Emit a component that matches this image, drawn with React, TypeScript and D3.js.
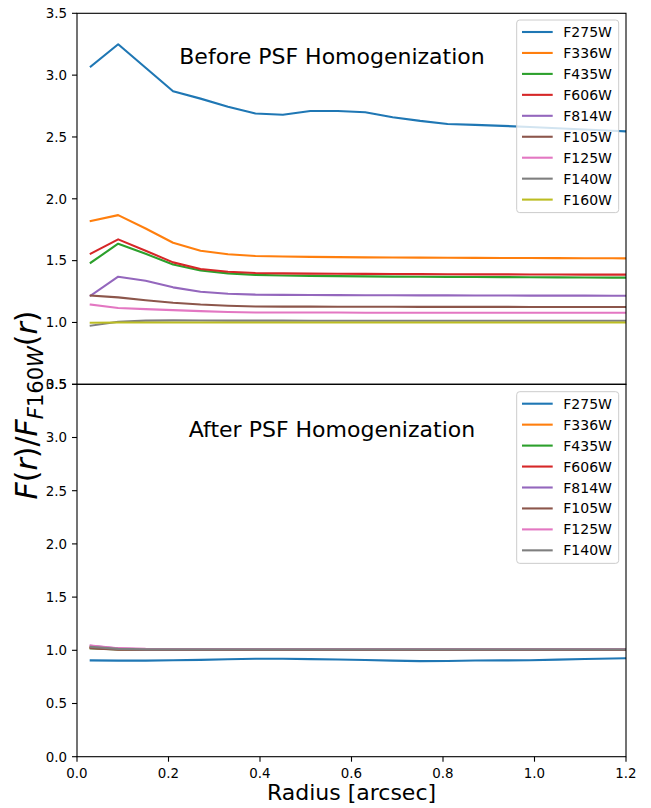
import React from "react";
import * as d3 from "d3";

// Aperture radii (arcsec)
const radius = [0.03, 0.09, 0.15, 0.21, 0.27, 0.33, 0.39, 0.45, 0.51, 0.57, 0.63, 0.69, 0.75, 0.81, 0.87, 0.93, 0.99, 1.05, 1.11, 1.17, 1.23];

const filtersBefore = ["F275W", "F336W", "F435W", "F606W", "F814W", "F105W", "F125W", "F140W", "F160W"];
const filtersAfter = ["F275W", "F336W", "F435W", "F606W", "F814W", "F105W", "F125W", "F140W"];

const colors = ["#1f77b4", "#ff7f0e", "#2ca02c", "#d62728", "#9467bd", "#8c564b", "#e377c2", "#7f7f7f", "#bcbd22"];

// Flux ratio profiles before homogenization
const before_F275W = [3.07, 3.25, 3.06, 2.87, 2.81, 2.745, 2.69, 2.68, 2.71, 2.71, 2.70, 2.66, 2.63, 2.605, 2.598, 2.59, 2.58, 2.57, 2.56, 2.55, 2.54];
const before_F336W = [1.82, 1.868, 1.76, 1.645, 1.58, 1.551, 1.537, 1.533, 1.530, 1.528, 1.526, 1.525, 1.524, 1.523, 1.522, 1.521, 1.521, 1.520, 1.519, 1.519, 1.518];
const before_F435W = [1.483, 1.637, 1.555, 1.468, 1.42, 1.397, 1.385, 1.38, 1.377, 1.375, 1.373, 1.371, 1.370, 1.369, 1.368, 1.367, 1.366, 1.365, 1.364, 1.363, 1.362];
const before_F606W = [1.557, 1.672, 1.58, 1.486, 1.432, 1.41, 1.40, 1.397, 1.395, 1.394, 1.393, 1.392, 1.391, 1.390, 1.389, 1.389, 1.388, 1.388, 1.387, 1.387, 1.386];
const before_F814W = [1.218, 1.37, 1.338, 1.284, 1.249, 1.232, 1.225, 1.223, 1.222, 1.221, 1.220, 1.220, 1.219, 1.219, 1.218, 1.218, 1.217, 1.217, 1.217, 1.216, 1.216];
const before_F105W = [1.218, 1.203, 1.18, 1.16, 1.145, 1.135, 1.129, 1.128, 1.128, 1.127, 1.127, 1.127, 1.126, 1.126, 1.126, 1.126, 1.125, 1.125, 1.125, 1.125, 1.125];
const before_F125W = [1.144, 1.117, 1.108, 1.10, 1.092, 1.085, 1.081, 1.080, 1.080, 1.080, 1.079, 1.079, 1.079, 1.079, 1.079, 1.078, 1.078, 1.078, 1.078, 1.078, 1.078];
const before_F140W = [0.974, 1.006, 1.015, 1.017, 1.016, 1.015, 1.015, 1.015, 1.014, 1.014, 1.014, 1.014, 1.014, 1.014, 1.014, 1.014, 1.014, 1.014, 1.014, 1.014, 1.014];
const before_F160W = [0.998, 1.0, 1.0, 1.0, 1.0, 1.0, 1.0, 1.0, 1.0, 1.0, 1.0, 1.0, 1.0, 1.0, 1.0, 1.0, 1.0, 1.0, 1.0, 1.0, 1.0];

// Flux ratio profiles after homogenization
const after_F275W = [0.905, 0.903, 0.903, 0.906, 0.91, 0.916, 0.92, 0.92, 0.917, 0.913, 0.909, 0.903, 0.898, 0.90, 0.904, 0.905, 0.907, 0.912, 0.918, 0.923, 0.928];
const after_F336W = [1.03, 1.012, 1.007, 1.006, 1.006, 1.006, 1.006, 1.006, 1.006, 1.006, 1.006, 1.006, 1.006, 1.006, 1.006, 1.006, 1.006, 1.006, 1.006, 1.006, 1.006];
const after_F435W = [1.02, 1.008, 1.005, 1.005, 1.005, 1.005, 1.005, 1.005, 1.005, 1.005, 1.005, 1.005, 1.005, 1.005, 1.005, 1.005, 1.005, 1.005, 1.005, 1.005, 1.005];
const after_F606W = [1.025, 1.01, 1.007, 1.007, 1.007, 1.007, 1.007, 1.007, 1.007, 1.007, 1.007, 1.007, 1.007, 1.007, 1.007, 1.007, 1.007, 1.007, 1.007, 1.007, 1.007];
const after_F814W = [1.042, 1.016, 1.009, 1.009, 1.009, 1.009, 1.009, 1.009, 1.009, 1.009, 1.009, 1.009, 1.009, 1.009, 1.009, 1.009, 1.009, 1.009, 1.009, 1.009, 1.009];
const after_F105W = [1.02, 1.006, 1.005, 1.005, 1.005, 1.005, 1.005, 1.005, 1.005, 1.005, 1.005, 1.005, 1.005, 1.005, 1.005, 1.005, 1.005, 1.005, 1.005, 1.005, 1.005];
const after_F125W = [1.045, 1.02, 1.013, 1.012, 1.012, 1.012, 1.012, 1.012, 1.012, 1.012, 1.012, 1.012, 1.012, 1.012, 1.012, 1.012, 1.012, 1.012, 1.012, 1.012, 1.012];
const after_F140W = [1.032, 1.013, 1.009, 1.009, 1.009, 1.009, 1.009, 1.009, 1.009, 1.009, 1.009, 1.009, 1.009, 1.009, 1.009, 1.009, 1.009, 1.009, 1.009, 1.009, 1.009];

const seriesBefore = [before_F275W, before_F336W, before_F435W, before_F606W, before_F814W, before_F105W, before_F125W, before_F140W, before_F160W];
const seriesAfter = [after_F275W, after_F336W, after_F435W, after_F606W, after_F814W, after_F105W, after_F125W, after_F140W];

const xTicks = [0.0, 0.2, 0.4, 0.6, 0.8, 1.0, 1.2];
const yTicksTop = [0.5, 1.0, 1.5, 2.0, 2.5, 3.0, 3.5];
const yTicksBottom = [0.0, 0.5, 1.0, 1.5, 2.0, 2.5, 3.0, 3.5];

const W = 651;
const H = 808;
const left = 77;
const right = 626;
const topY = 13.3;
const midY = 384.3;
const botY = 756.7;
const FONT = "DejaVu Sans, sans-serif";

const x = d3.scaleLinear().domain([0, 1.2]).range([left, right]);
const yTop = d3.scaleLinear().domain([0.5, 3.5]).range([midY, topY]);
const yBot = d3.scaleLinear().domain([0, 3.5]).range([botY, midY]);

function Panel({ id, y, series, names, ticks, y0, y1, title, titleY, legendTop }: any) {
  const line = d3
    .line<number>()
    .x((_, i) => x(radius[i]))
    .y((v) => y(v));
  const rowPitch = 20.95;
  const legendH = 12 + (names.length - 1) * rowPitch + 13;
  return (
    <g>
      <defs>
        <clipPath id={id}>
          <rect x={left} y={y0} width={right - left} height={y1 - y0} />
        </clipPath>
      </defs>
      <g clipPath={`url(#${id})`}>
        {series.map((s: number[], i: number) => (
          <path key={names[i]} d={line(s) || ""} fill="none" stroke={colors[i]} strokeWidth={2.1} strokeLinejoin="round" strokeLinecap="square" />
        ))}
      </g>
      <text x={332} y={titleY} fontFamily={FONT} fontSize={22} textAnchor="middle" fill="#000">
        {title}
      </text>
      {/* legend */}
      <g>
        <rect x={516.7} y={legendTop} width={102} height={legendH} rx={3} fill="#fff" fillOpacity={0.8} stroke="#cccccc" strokeWidth={1} />
        {names.map((n: string, i: number) => {
          const cy = legendTop + 12 + i * rowPitch;
          return (
            <g key={n}>
              <line x1={522} x2={552.7} y1={cy} y2={cy} stroke={colors[i]} strokeWidth={2.1} />
              <text x={563.3} y={cy + 5} fontFamily={FONT} fontSize={14} fill="#000">
                {n}
              </text>
            </g>
          );
        })}
      </g>
      {/* y ticks */}
      {ticks.map((t: number) => (
        <g key={t}>
          <line x1={left - 5} x2={left} y1={y(t)} y2={y(t)} stroke="#000" strokeWidth={1.1} />
          <text x={left - 10} y={y(t) + 4.8} fontFamily={FONT} fontSize={13.4} textAnchor="end" fill="#000">
            {t.toFixed(1)}
          </text>
        </g>
      ))}
      <rect x={left} y={y0} width={right - left} height={y1 - y0} fill="none" stroke="#000" strokeWidth={1.1} />
    </g>
  );
}

export default function App() {
  return (
    <svg width={W} height={H} style={{ position: "absolute", left: 0, top: 0, background: "#fff" }}>
      <rect x={0} y={0} width={W} height={H} fill="#fff" />
      <Panel id="clipTop" y={yTop} series={seriesBefore} names={filtersBefore} ticks={yTicksTop} y0={topY} y1={midY}
        title="Before PSF Homogenization" titleY={63.5} legendTop={20} />
      <Panel id="clipBot" y={yBot} series={seriesAfter} names={filtersAfter} ticks={yTicksBottom} y0={midY} y1={botY}
        title="After PSF Homogenization" titleY={436.5} legendTop={391.7} />
      {/* x axis */}
      {xTicks.map((t) => (
        <g key={t}>
          <line x1={x(t)} x2={x(t)} y1={botY} y2={botY + 5} stroke="#000" strokeWidth={1.1} />
          <text x={x(t)} y={778.3} fontFamily={FONT} fontSize={13.4} textAnchor="middle" fill="#000">
            {t.toFixed(1)}
          </text>
        </g>
      ))}
      <text x={(left + right) / 2} y={800} fontFamily={FONT} fontSize={22} textAnchor="middle" fill="#000">
        Radius [arcsec]
      </text>
      {/* y label */}
      <text transform="translate(37,405) rotate(-90)" fontFamily={FONT} fontSize={30} textAnchor="middle" fill="#000">
        <tspan fontStyle="italic">F</tspan>
        <tspan>(</tspan>
        <tspan fontStyle="italic">r</tspan>
        <tspan>)/</tspan>
        <tspan fontStyle="italic">F</tspan>
        <tspan fontSize={21} dy={6} fontStyle="italic">F</tspan>
        <tspan fontSize={21}>160</tspan>
        <tspan fontSize={21} fontStyle="italic">W</tspan>
        <tspan dy={-6}>(</tspan>
        <tspan fontStyle="italic">r</tspan>
        <tspan>)</tspan>
      </text>
    </svg>
  );
}
